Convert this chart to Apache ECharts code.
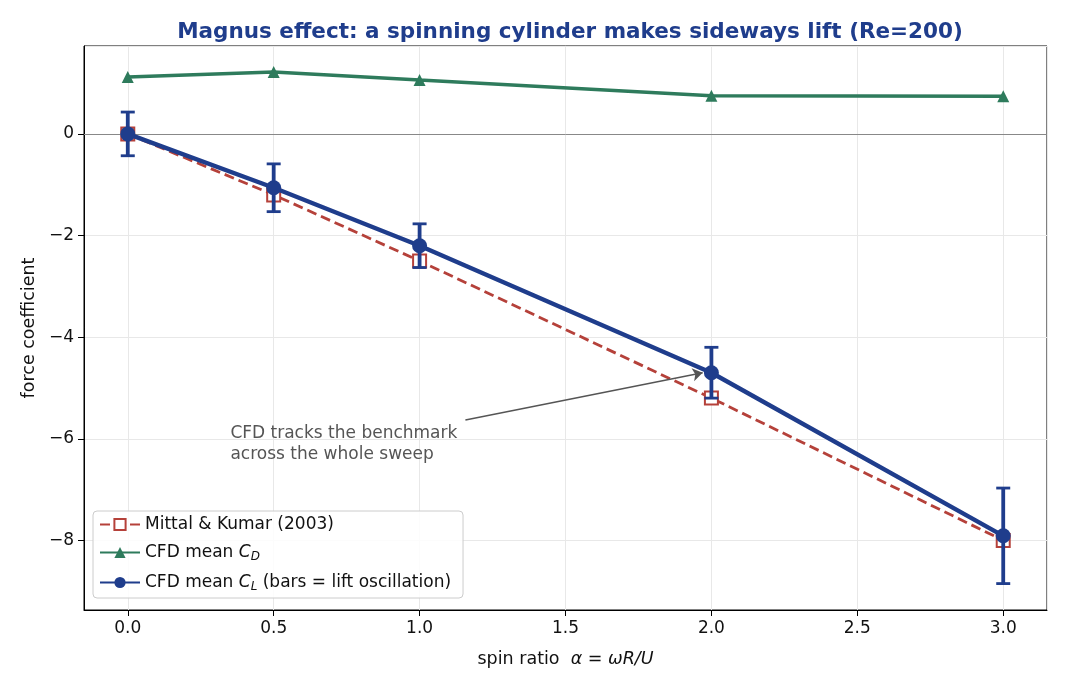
<!DOCTYPE html>
<html>
<head>
<meta charset="utf-8" />
<style type="text/css">
html, body {margin: 0; padding: 0; background: #fff}
</style>
</head>
<body>
<div id="main" style="width:1066px;height:689px;"></div>
<script src="https://cdn.jsdelivr.net/npm/echarts@6/dist/echarts.min.js"></script>
<script type="text/javascript">

// spin ratio alpha = omega R / U
var alpha = [0, 0.5, 1.0, 2.0, 3.0];
// CFD mean drag coefficient
var cdMean = [1.12, 1.22, 1.06, 0.75, 0.74];
// CFD mean lift coefficient and half-amplitude of its oscillation
var clMean = [0, -1.06, -2.20, -4.70, -7.91];
var clOsc = [0.43, 0.47, 0.43, 0.50, 0.94];
// Mittal & Kumar (2003) benchmark lift
var mittal = [0, -1.2, -2.5, -5.2, -8.0];

var BLUE = '#1f3d8c', GREEN = '#2e7b5c', RED = '#b5413a';
var FONT = 'DejaVu Sans';

var myChart = echarts.init(document.getElementById('main'));

function pairs(xs, ys) {
    return xs.map(function (x, i) { return [x, ys[i]]; });
}
var errData = alpha.map(function (x, i) {
    return [x, clMean[i] - clOsc[i], clMean[i] + clOsc[i]];
});

function minus(v) {
    return String(v).replace('-', '\u2212');
}

option = {
    animation: false,
    backgroundColor: '#fff',
    textStyle: { fontFamily: FONT },
    title: {
        text: 'Magnus effect: a spinning cylinder makes sideways lift (Re=200)',
        left: 565,
        textAlign: 'center',
        top: 16,
        textStyle: { fontFamily: FONT, fontSize: 21.5, fontWeight: 'bold', color: BLUE }
    },
    grid: {
        left: 84, right: 19, top: 46, bottom: 79,
        show: true, borderColor: '#000', borderWidth: 1, backgroundColor: 'transparent'
    },
    legend: {
        orient: 'vertical',
        left: 93,
        top: 511,
        padding: [5, 12, 5, 6],
        itemGap: 9,
        itemWidth: 40,
        itemHeight: 14,
        borderColor: '#cccccc',
        borderWidth: 1,
        borderRadius: 4,
        backgroundColor: 'rgba(255,255,255,0.85)',
        data: ['Mittal & Kumar (2003)', 'CFD mean CD', 'CFD mean CL'],
        formatter: function (name) {
            if (name === 'CFD mean CD') return '{n|CFD mean }{i|C}{s|D}';
            if (name === 'CFD mean CL') return '{n|CFD mean }{i|C}{s|L}{n| (bars = lift oscillation)}';
            return '{n|' + name + '}';
        },
        textStyle: {
            color: '#111',
            fontSize: 17,
            rich: {
                n: { fontFamily: FONT, fontSize: 17, color: '#111', lineHeight: 20 },
                i: { fontFamily: FONT, fontSize: 17, fontStyle: 'italic', color: '#111', lineHeight: 20 },
                s: { fontFamily: FONT, fontSize: 12, fontStyle: 'italic', color: '#111', lineHeight: 20, padding: [9, 0, 0, 0] }
            }
        }
    },
    xAxis: {
        type: 'value',
        min: -0.15,
        max: 3.15,
        name: '{n|spin ratio  }{i|\u03b1 = \u03c9R/U}',
        nameLocation: 'middle',
        nameGap: 40,
        nameTextStyle: {
            rich: {
                n: { fontFamily: FONT, fontSize: 17.5, color: '#111' },
                i: { fontFamily: FONT, fontSize: 17.5, fontStyle: 'italic', color: '#111' }
            }
        },
        axisLine: { show: true, onZero: false, lineStyle: { color: '#000', width: 1 } },
        axisTick: { show: true, length: 6, lineStyle: { color: '#000' } },
        axisLabel: {
            showMinLabel: false, showMaxLabel: false,
            color: '#111', fontSize: 17, margin: 10,
            formatter: function (v) { return v.toFixed(1); }
        },
        splitLine: { show: true, lineStyle: { color: '#e8e8e8', width: 1 } }
    },
    yAxis: {
        type: 'value',
        min: -9.37,
        max: 1.73,
        name: 'force coefficient',
        nameLocation: 'middle',
        nameGap: 46,
        nameTextStyle: { fontFamily: FONT, fontSize: 17.5, color: '#111' },
        axisLine: { show: true, onZero: false, lineStyle: { color: '#000', width: 1 } },
        axisTick: { show: true, length: 6, lineStyle: { color: '#000' } },
        axisLabel: {
            showMinLabel: false, showMaxLabel: false,
            color: '#111', fontSize: 17, margin: 10,
            formatter: function (v) { return minus(v); }
        },
        splitLine: { show: true, lineStyle: { color: '#e8e8e8', width: 1 } }
    },
    series: [
        {
            name: 'Mittal & Kumar (2003)',
            type: 'line',
            data: pairs(alpha, mittal),
            symbol: 'rect',
            symbolSize: 13,
            lineStyle: { color: RED, width: 2.8, type: [10, 5] },
            itemStyle: { color: '#fff', borderColor: RED, borderWidth: 2 },
            z: 2,
            markLine: {
                silent: true,
                symbol: 'none',
                label: { show: false },
                lineStyle: { color: '#888', width: 1, type: 'solid' },
                data: [{ yAxis: 0 }]
            },
            markPoint: {
                silent: true,
                symbol: 'circle',
                symbolSize: 1,
                itemStyle: { color: 'rgba(0,0,0,0)' },
                label: {
                    show: true,
                    position: 'right',
                    distance: 0,
                    formatter: 'CFD tracks the benchmark\nacross the whole sweep',
                    fontFamily: FONT,
                    fontSize: 17,
                    lineHeight: 21,
                    color: '#555',
                    align: 'left'
                },
                data: [{ coord: [0.35, -6.1] }]
            }
        },
        {
            name: 'CFD mean CD',
            type: 'line',
            data: pairs(alpha, cdMean),
            symbol: 'triangle',
            symbolSize: 12,
            lineStyle: { color: GREEN, width: 3.5 },
            itemStyle: { color: GREEN },
            z: 3
        },
        {
            name: 'CFD mean CL',
            type: 'line',
            data: pairs(alpha, clMean),
            symbol: 'circle',
            symbolSize: 15,
            lineStyle: { color: BLUE, width: 4.4 },
            itemStyle: { color: BLUE },
            z: 5,
            markLine: {
                silent: true,
                symbol: ['none', 'arrow'],
                symbolSize: 10,
                label: { show: false },
                lineStyle: { color: '#555', width: 1.4, type: 'solid' },
                data: [[{ coord: [1.157, -5.63] }, { coord: [1.97, -4.70] }]]
            }
        },
        {
            name: 'CFD mean CL',
            type: 'custom',
            data: errData,
            encode: { x: 0, y: [1, 2] },
            clip: false,
            z: 4,
            renderItem: function (params, api) {
                var x = api.value(0);
                var top = api.coord([x, api.value(2)]);
                var bot = api.coord([x, api.value(1)]);
                var w = 7;
                var st = { stroke: BLUE, lineWidth: 3.8 };
                var cap = { stroke: BLUE, lineWidth: 2.8 };
                return {
                    type: 'group',
                    children: [
                        { type: 'line', shape: { x1: top[0], y1: top[1], x2: bot[0], y2: bot[1] }, style: st },
                        { type: 'line', shape: { x1: top[0] - w, y1: top[1], x2: top[0] + w, y2: top[1] }, style: cap },
                        { type: 'line', shape: { x1: bot[0] - w, y1: bot[1], x2: bot[0] + w, y2: bot[1] }, style: cap }
                    ]
                };
            },
            itemStyle: { color: BLUE }
        }
    ]
};

myChart.setOption(option);
</script>
</body>
</html>
